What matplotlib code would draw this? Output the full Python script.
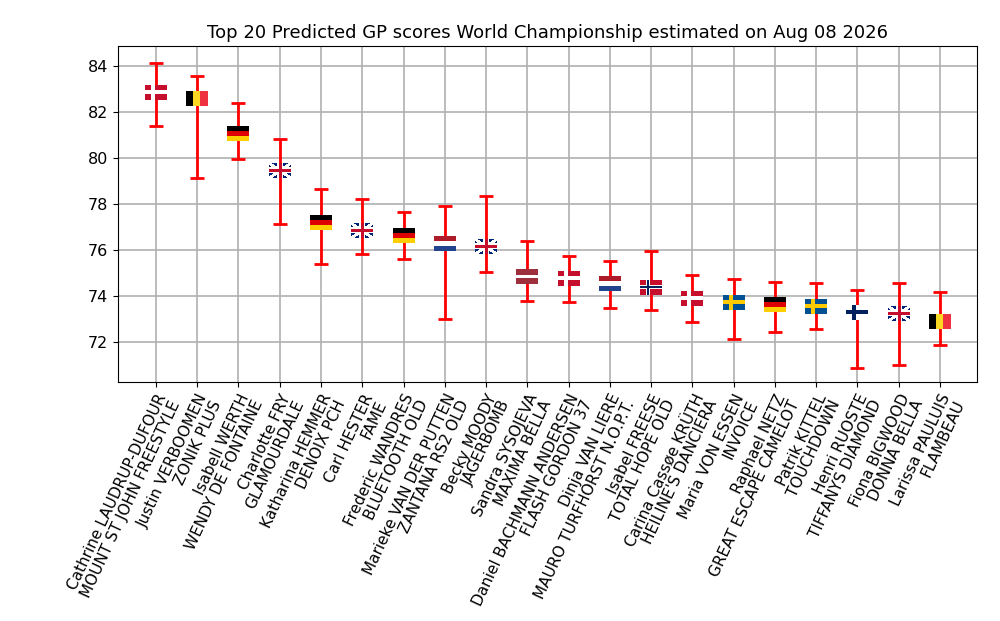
import numpy as np
import matplotlib
matplotlib.use("Agg")
import matplotlib.pyplot as plt
from matplotlib.offsetbox import OffsetImage, AnnotationBbox

riders = ["Cathrine LAUDRUP-DUFOUR", "Justin VERBOOMEN", "Isabell WERTH", "Charlotte FRY",
          "Katharina HEMMER", "Carl HESTER", "Frederic WANDRES", "Marieke VAN DER PUTTEN",
          "Becky MOODY", "Sandra SYSOJEVA", "Daniel BACHMANN ANDERSEN", "Dinja VAN LIERE",
          "Isabel FREESE", "Carina Cassøe KRÜTH", "Maria VON ESSEN", "Raphael NETZ",
          "Patrik KITTEL", "Henri RUOSTE", "Fiona BIGWOOD", "Larissa PAULUIS"]
horses = ["MOUNT ST JOHN FREESTYLE", "ZONIK PLUS", "WENDY DE FONTAINE", "GLAMOURDALE",
          "DENOIX PCH", "FAME", "BLUETOOTH OLD", "ZANTANA RS2 OLD", "JAGERBOMB",
          "MAXIMA BELLA", "FLASH GORDON 37", "MAURO TURFHORST N.O.P.T.", "TOTAL HOPE OLD",
          "HEILINE'S DANCIERA", "INVOICE", "GREAT ESCAPE CAMELOT", "TOUCHDOWN",
          "TIFFANYS DIAMOND", "DONNA BELLA", "FLAMBEAU"]
countries = ["DEN", "BEL", "GER", "GBR", "GER", "GBR", "GER", "NED", "GBR", "LAT",
             "DEN", "NED", "NOR", "DEN", "SWE", "GER", "SWE", "FIN", "GBR", "BEL"]
scores = [82.83, 82.58, 81.06, 79.47, 77.2, 76.84, 76.61, 76.28, 76.15, 74.84,
          74.75, 74.52, 74.38, 73.9, 73.73, 73.64, 73.55, 73.3, 73.25, 72.87]
upper = [84.14, 83.58, 82.4, 80.83, 78.65, 78.22, 77.65, 77.93, 78.36, 76.4,
         75.75, 75.5, 75.97, 74.9, 74.73, 74.6, 74.58, 74.27, 74.58, 74.16]
lower = [81.4, 79.12, 79.96, 77.14, 75.39, 75.84, 75.6, 73.01, 75.04, 73.8,
         73.75, 73.49, 73.38, 72.88, 72.12, 72.43, 72.57, 70.87, 71.0, 71.87]


def make_flag(code, h=15, w=22):
    img = np.ones((h, w, 3))
    red = (0.78, 0.06, 0.18)
    if code in ("DEN", "NOR", "SWE", "FIN"):
        base, cross, inner = {"DEN": (red, (1, 1, 1), None),
                              "NOR": (red, (1, 1, 1), (0.0, 0.13, 0.36)),
                              "SWE": ((0.0, 0.32, 0.58), (1.0, 0.8, 0.0), None),
                              "FIN": ((1, 1, 1), (0.0, 0.13, 0.36), None)}[code]
        img[:] = base
        img[h // 2 - 2:h // 2 + 2, :] = cross
        img[:, 6:10] = cross
        if inner is not None:
            img[h // 2 - 1:h // 2 + 1, :] = inner
            img[:, 7:9] = inner
    elif code == "BEL":
        img[:, :w // 3] = (0, 0, 0)
        img[:, w // 3:2 * w // 3] = (0.99, 0.85, 0.14)
        img[:, 2 * w // 3:] = (0.94, 0.2, 0.25)
    elif code == "GER":
        img[:h // 3] = (0, 0, 0)
        img[h // 3:2 * h // 3] = (0.87, 0.0, 0.0)
        img[2 * h // 3:] = (1.0, 0.81, 0.0)
    elif code == "NED":
        img[:h // 3] = (0.68, 0.11, 0.16)
        img[2 * h // 3:] = (0.13, 0.27, 0.55)
    elif code == "LAT":
        img[:] = (0.62, 0.19, 0.24)
        img[6:9] = (1, 1, 1)
    elif code == "GBR":
        img[:] = (0.0, 0.14, 0.49)
        yy, xx = np.mgrid[0:h, 0:w]
        d1 = np.abs(yy - xx * h / w) < 1.8
        d2 = np.abs(yy - (w - 1 - xx) * h / w) < 1.8
        img[d1 | d2] = (1, 1, 1)
        img[h // 2 - 3:h // 2 + 3, :] = (1, 1, 1)
        img[:, w // 2 - 3:w // 2 + 3] = (1, 1, 1)
        img[h // 2 - 1:h // 2 + 2, :] = red
        img[:, w // 2 - 1:w // 2 + 2] = red
    return img


labels = [f"{r}\n{h}" for r, h in zip(riders, horses)]
x = np.arange(len(scores))
y = np.array(scores)
yerr = [y - np.array(lower), np.array(upper) - y]

fig = plt.figure(figsize=(10, 6.21), dpi=100)
ax = fig.add_axes([0.118, 0.385, 0.859, 0.541])
ax.errorbar(x, y, yerr=yerr, fmt="none", ecolor="red", elinewidth=2, capsize=5, capthick=2, zorder=2)
for xi, yi, c in zip(x, y, countries):
    ab = AnnotationBbox(OffsetImage(make_flag(c), zoom=0.72), (xi, yi), frameon=False, zorder=3)
    ax.add_artist(ab)

ax.set_ylim(70.26, 84.87)
ax.set_xlim(-0.92, 19.9)
ax.set_yticks([72, 74, 76, 78, 80, 82, 84])
ax.set_xticks(x)
ax.set_xticklabels(labels, rotation=65, ha="right", rotation_mode="anchor",
                   fontsize=11, linespacing=1.0)
ax.tick_params(axis="y", labelsize=11.5)
ax.grid(True, color="#b0b0b0", linewidth=1.2)
ax.set_axisbelow(True)
ax.set_title("Top 20 Predicted GP scores World Championship estimated on Aug 08 2026", fontsize=13)

fig.savefig("out.png", dpi=100)
